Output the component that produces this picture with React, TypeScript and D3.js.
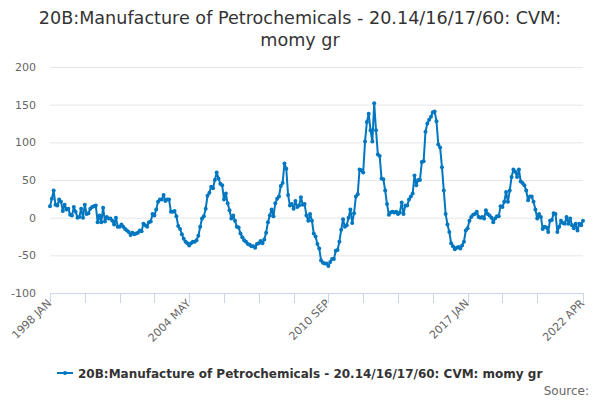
import { useRef, useEffect } from "react"
import * as d3 from "d3"

// monthly values, 1998 JAN .. 2022 APR
const values: number[] = [
  15, 25, 36, 17, 16, 24, 21, 9, 17, 11,
  12, 4, 3, 14, 8, 0, 1, 12, 0, 17,
  5, 6, 12, 14, 15, 16, -6, 3, -6, 13,
  -5, 1, -1, -1, -4, -9, 0, -12, -12, -9,
  -12, -15, -17, -19, -23, -20, -22, -21, -20, -17,
  -18, -8, -10, -12, -6, -5, 5, 3, 11, 21,
  24, 24, 30, 22, 24, 24, 8, 8, 9, 2,
  -11, -15, -22, -28, -32, -34, -37, -34, -32, -32,
  -30, -24, -12, -1, 2, 12, 29, 33, 41, 39,
  50, 60, 52, 45, 43, 24, 32, 19, 10, -1,
  3, -4, -12, -13, -21, -26, -30, -32, -35, -36,
  -38, -38, -40, -35, -34, -31, -34, -29, -20, -6,
  3, 11, 2, 19, 25, 28, 42, 46, 72, 65,
  30, 16, 18, 12, 22, 14, 16, 27, 17, 18,
  3, -4, 5, -4, -21, -25, -35, -41, -57, -60,
  -61, -61, -64, -59, -55, -55, -44, -43, -32, -16,
  -2, -12, -10, 0, 11, -7, 6, 28, 31, 64,
  63, 60, 101, 127, 138, 116, 101, 152, 116, 84,
  82, 52, 51, 36, 18, 4, 7, 8, 7, 8,
  5, 7, 20, 5, 16, 16, 24, 28, 32, 56,
  43, 50, 50, 74, 75, 114, 125, 130, 134, 140,
  141, 128, 97, 93, 67, 36, 5, -9, -19, -34,
  -38, -42, -40, -39, -41, -37, -32, -17, -14, -4,
  1, 4, 5, 8, 1, 0, 1, -1, 10, 5,
  3, 0, -6, -1, 2, 2, 15, 14, 21, 34,
  21, 36, 54, 64, 61, 54, 64, 48, 46, 43,
  36, 23, 28, 28, 21, 11, -1, 5, 1, -15,
  -12, -13, -19, -4, -3, 6, 5, -19, -12, -4,
  -7, -8, 1, -8, -1, -10, -14, -8, -17, -8,
  -10, -4,
]

const startYear = 1998
const monthNames = ["JAN", "FEB", "MAR", "APR", "MAY", "JUN", "JUL", "AUG", "SEP", "OCT", "NOV", "DEC"]
const yTicks = [-100, -50, 0, 50, 100, 150, 200]
const titleLines = ["20B:Manufacture of Petrochemicals - 20.14/16/17/60: CVM:", "momy gr"]
const seriesName = "20B:Manufacture of Petrochemicals - 20.14/16/17/60: CVM: momy gr"

const monthLabel = (i: number) => `${startYear + Math.floor(i / 12)} ${monthNames[i % 12]}`

export default function App() {
  const svgRef = useRef<SVGSVGElement | null>(null)

  useEffect(() => {
    if (!svgRef.current) return
    const svg = d3.select(svgRef.current)
    svg.selectAll("*").remove()

    const width = 600
    const font = "DejaVu Sans, Verdana, sans-serif"
    const color = "#0077c0"
    const plot = { left: 50, right: 583, top: 67, bottom: 293 }

    const x = d3.scaleLinear().domain([0, values.length - 1]).range([plot.left, plot.right])
    const y = d3.scaleLinear().domain([-100, 200]).range([plot.bottom, plot.top])

    // Title
    svg
      .append("text")
      .attr("x", width / 2)
      .attr("y", 24)
      .attr("text-anchor", "middle")
      .attr("font-family", font)
      .attr("font-size", "17.6px")
      .attr("fill", "#333333")
      .selectAll("tspan")
      .data(titleLines)
      .enter()
      .append("tspan")
      .attr("x", width / 2)
      .attr("dy", (_, i) => (i === 0 ? 0 : 22))
      .text((d) => d)

    // Grid lines + y labels
    const grid = svg.append("g")
    grid
      .selectAll("line")
      .data(yTicks.filter((t) => t !== -100))
      .enter()
      .append("line")
      .attr("x1", plot.left)
      .attr("x2", plot.right)
      .attr("y1", (d) => y(d) + 0.5)
      .attr("y2", (d) => y(d) + 0.5)
      .attr("stroke", "#e6e6e6")
    grid
      .selectAll("text")
      .data(yTicks)
      .enter()
      .append("text")
      .attr("x", 36)
      .attr("y", (d) => y(d) + 4)
      .attr("text-anchor", "end")
      .attr("font-family", font)
      .attr("font-size", "11px")
      .attr("fill", "#666666")
      .text((d) => d)

    // X axis
    const n = values.length
    const tickIdx = d3.range(0, n, 19).filter((i) => n - 1 - i > 10)
    tickIdx.push(n - 1)
    const labelIdx = tickIdx.filter((i, k) => k % 4 === 0 || i === n - 1)

    const xAxis = svg.append("g")
    xAxis
      .append("line")
      .attr("x1", plot.left)
      .attr("x2", plot.right + 1)
      .attr("y1", plot.bottom + 0.5)
      .attr("y2", plot.bottom + 0.5)
      .attr("stroke", "#ccd6eb")
    xAxis
      .selectAll(".tick")
      .data(tickIdx)
      .enter()
      .append("line")
      .attr("class", "tick")
      .attr("x1", (d) => Math.round(x(d)) + 0.5)
      .attr("x2", (d) => Math.round(x(d)) + 0.5)
      .attr("y1", plot.bottom)
      .attr("y2", plot.bottom + 10)
      .attr("stroke", "#ccd6eb")
    xAxis
      .selectAll(".lbl")
      .data(labelIdx)
      .enter()
      .append("text")
      .attr("class", "lbl")
      .attr("transform", (d) => `translate(${x(d) + 2},${plot.bottom + 11}) rotate(-45)`)
      .attr("text-anchor", "end")
      .attr("font-family", font)
      .attr("font-size", "11px")
      .attr("fill", "#666666")
      .text((d) => monthLabel(d))

    // Series
    const line = d3
      .line<number>()
      .x((_, i) => x(i))
      .y((d) => y(d))

    svg
      .append("path")
      .datum(values)
      .attr("fill", "none")
      .attr("stroke", color)
      .attr("stroke-width", 2)
      .attr("stroke-linejoin", "round")
      .attr("d", line)

    svg
      .append("g")
      .selectAll("circle")
      .data(values)
      .enter()
      .append("circle")
      .attr("cx", (_, i) => x(i))
      .attr("cy", (d) => y(d))
      .attr("r", 2)
      .attr("fill", color)

    // Legend
    const legend = svg.append("g").attr("transform", "translate(57,373)")
    legend.append("line").attr("x1", 0).attr("x2", 16).attr("stroke", color).attr("stroke-width", 2)
    legend.append("circle").attr("cx", 8).attr("r", 2).attr("fill", color)
    legend
      .append("text")
      .attr("x", 21)
      .attr("y", 4.5)
      .attr("font-family", font)
      .attr("font-size", "12px")
      .attr("font-weight", "bold")
      .attr("fill", "#333333")
      .text(seriesName)

    // Credit
    svg
      .append("text")
      .attr("x", 589)
      .attr("y", 395)
      .attr("text-anchor", "end")
      .attr("font-family", font)
      .attr("font-size", "12px")
      .attr("fill", "#666666")
      .text("Source:")
  }, [])

  return (
    <svg
      ref={svgRef}
      width={600}
      height={400}
      style={{ position: "absolute", left: 0, top: 0, background: "#ffffff" }}
    ></svg>
  )
}
